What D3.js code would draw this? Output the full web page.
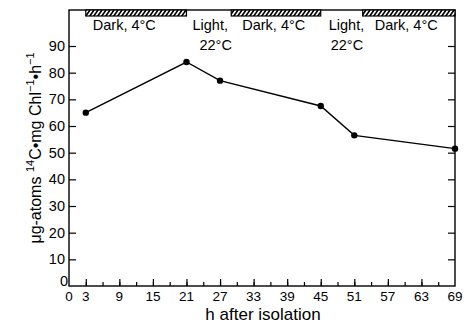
<!DOCTYPE html>
<html>
<head>
<meta charset="utf-8">
<script src="https://cdn.jsdelivr.net/npm/d3@7"></script>
<style>
  body { margin: 0; background: #fff; }
  text { font-family: "Liberation Sans", Arial, sans-serif; fill: #000; }
</style>
</head>
<body>
<svg class="chart" width="467" height="323"></svg>
<script>
// values
var hours = [3, 21, 27, 45, 51, 69];
var uptake = [65, 84, 77, 67.5, 56.5, 51.5];
var xTickLabels = [0, 3, 9, 15, 21, 27, 33, 39, 45, 51, 57, 63, 69];
var yTickLabels = [0, 10, 20, 30, 40, 50, 60, 70, 80, 90];
var darkStart = [3, 29, 52.5];
var darkEnd = [21, 45, 69];
var darkLabel = "Dark, 4°C";
var lightLabel = ["Light,", "22°C"];

var meta = {};
meta['left'] = 69;
meta['right'] = 455;
meta['top'] = 10;
meta['bottom'] = 286;

var svg = d3.select(".chart");

const xScale = d3.scaleLinear()
    .domain([0, 69])
    .range([meta['left'], meta['right']]);

const yScale = d3.scaleLinear()
    .domain([0, 103.5])
    .range([meta['bottom'], meta['top']]);

// hatch pattern for the dark periods
var defs = svg.append('defs');
var pat = defs.append('pattern')
    .attr('id', 'hatch')
    .attr('patternUnits', 'userSpaceOnUse')
    .attr('width', 4)
    .attr('height', 6)
    .attr('patternTransform', 'skewX(-35)');
pat.append('rect').attr('width', 4).attr('height', 6).attr('fill', '#fff');
pat.append('rect').attr('width', 2).attr('height', 6).attr('fill', '#000');

// frame
svg.append('rect')
    .attr('x', meta['left'])
    .attr('y', meta['top'])
    .attr('width', meta['right'] - meta['left'])
    .attr('height', meta['bottom'] - meta['top'])
    .attr('fill', 'none')
    .attr('stroke', '#000')
    .attr('stroke-width', 1.4);

// x ticks every 3 h, taller at labelled ones
var minor = d3.range(3, 69, 3);
svg.append('g')
    .attr('transform', `translate(0,${meta['bottom']})`)
    .call(d3.axisTop(xScale).tickValues(minor).tickSize(4).tickFormat(''))
    .call(g => g.select('.domain').remove())
    .call(g => g.selectAll('.tick line').attr('stroke-width', 1.2));
svg.append('g')
    .attr('transform', `translate(0,${meta['bottom']})`)
    .call(d3.axisTop(xScale).tickValues(xTickLabels.filter(d => d > 0 && d < 69)).tickSize(7).tickFormat(''))
    .call(g => g.select('.domain').remove())
    .call(g => g.selectAll('.tick line').attr('stroke-width', 1.2));

svg.append('g').selectAll('text')
    .data(xTickLabels)
    .enter()
    .append('text')
    .attr('x', d => xScale(d))
    .attr('y', meta['bottom'] + 15)
    .attr('text-anchor', 'middle')
    .attr('font-size', 13.5)
    .text(d => d);

// y ticks, left and right, pointing inwards
var yTicks = yTickLabels.filter(d => d > 0);
svg.append('g')
    .attr('transform', `translate(${meta['left']},0)`)
    .call(d3.axisRight(yScale).tickValues(yTicks).tickSize(7).tickFormat(''))
    .call(g => g.select('.domain').remove())
    .call(g => g.selectAll('.tick line').attr('stroke-width', 1.2));
svg.append('g')
    .attr('transform', `translate(${meta['right']},0)`)
    .call(d3.axisLeft(yScale).tickValues(yTicks).tickSize(7).tickFormat(''))
    .call(g => g.select('.domain').remove())
    .call(g => g.selectAll('.tick line').attr('stroke-width', 1.2));

svg.append('g').selectAll('text')
    .data(yTickLabels)
    .enter()
    .append('text')
    .attr('x', d => d == 0 ? meta['left'] - 1 : meta['left'] - 4)
    .attr('y', d => d == 0 ? yScale(d) : yScale(d) + 5)
    .attr('text-anchor', 'end')
    .attr('font-size', 14.5)
    .text(d => d);

// dark period bars
svg.append('g').selectAll('rect')
    .data(darkStart)
    .enter()
    .append('rect')
    .attr('x', d => xScale(d))
    .attr('y', meta['top'])
    .attr('width', (d, i) => xScale(darkEnd[i]) - xScale(d))
    .attr('height', 6)
    .attr('fill', 'url(#hatch)')
    .attr('stroke', '#000')
    .attr('stroke-width', 1.2);

svg.append('g').selectAll('text')
    .data(darkStart)
    .enter()
    .append('text')
    .attr('x', (d, i) => xScale(d) + [7, 11, 12][i])
    .attr('y', 30)
    .attr('font-size', 14.5)
    .text(darkLabel);

var lightG = svg.append('g');
darkEnd.slice(0, 2).forEach(function(d, i) {
    lightG.append('text')
        .attr('x', xScale(d) + [6, 8][i])
        .attr('y', 30)
        .attr('font-size', 14.5)
        .text(lightLabel[0]);
    lightG.append('text')
        .attr('x', xScale(d) + [13, 10][i])
        .attr('y', 50)
        .attr('font-size', 14.5)
        .text(lightLabel[1]);
});

// data line and points
var points = hours.map((h, i) => ({ hour: h, value: uptake[i] }));

svg.append('path')
    .datum(points)
    .attr('d', d3.line()
        .x(d => xScale(d.hour))
        .y(d => yScale(d.value)))
    .attr('fill', 'none')
    .attr('stroke', '#000')
    .attr('stroke-width', 1.4);

svg.selectAll('.circle')
    .data(points)
    .enter()
    .append('circle')
    .attr('class', 'circle')
    .attr('cx', d => xScale(d.hour))
    .attr('cy', d => yScale(d.value))
    .attr('r', 3.2)
    .attr('fill', '#000');

// axis titles
svg.append('text')
    .attr('x', (meta['left'] + meta['right']) / 2 + 1)
    .attr('y', 320)
    .attr('text-anchor', 'middle')
    .attr('font-size', 17)
    .text("h after isolation");

var ylab = svg.append('text')
    .attr('transform', 'translate(41,148) rotate(-90)')
    .attr('text-anchor', 'middle')
    .attr('font-size', 16);
ylab.append('tspan').text("μg-atoms ");
ylab.append('tspan').attr('font-size', 11).attr('dy', -7).text("14");
ylab.append('tspan').attr('dy', 7).text("C•mg Chl");
ylab.append('tspan').attr('font-size', 11).attr('dy', -7).text("−1");
ylab.append('tspan').attr('dy', 7).text("•h");
ylab.append('tspan').attr('font-size', 11).attr('dy', -7).text("−1");
</script>
</body>
</html>
